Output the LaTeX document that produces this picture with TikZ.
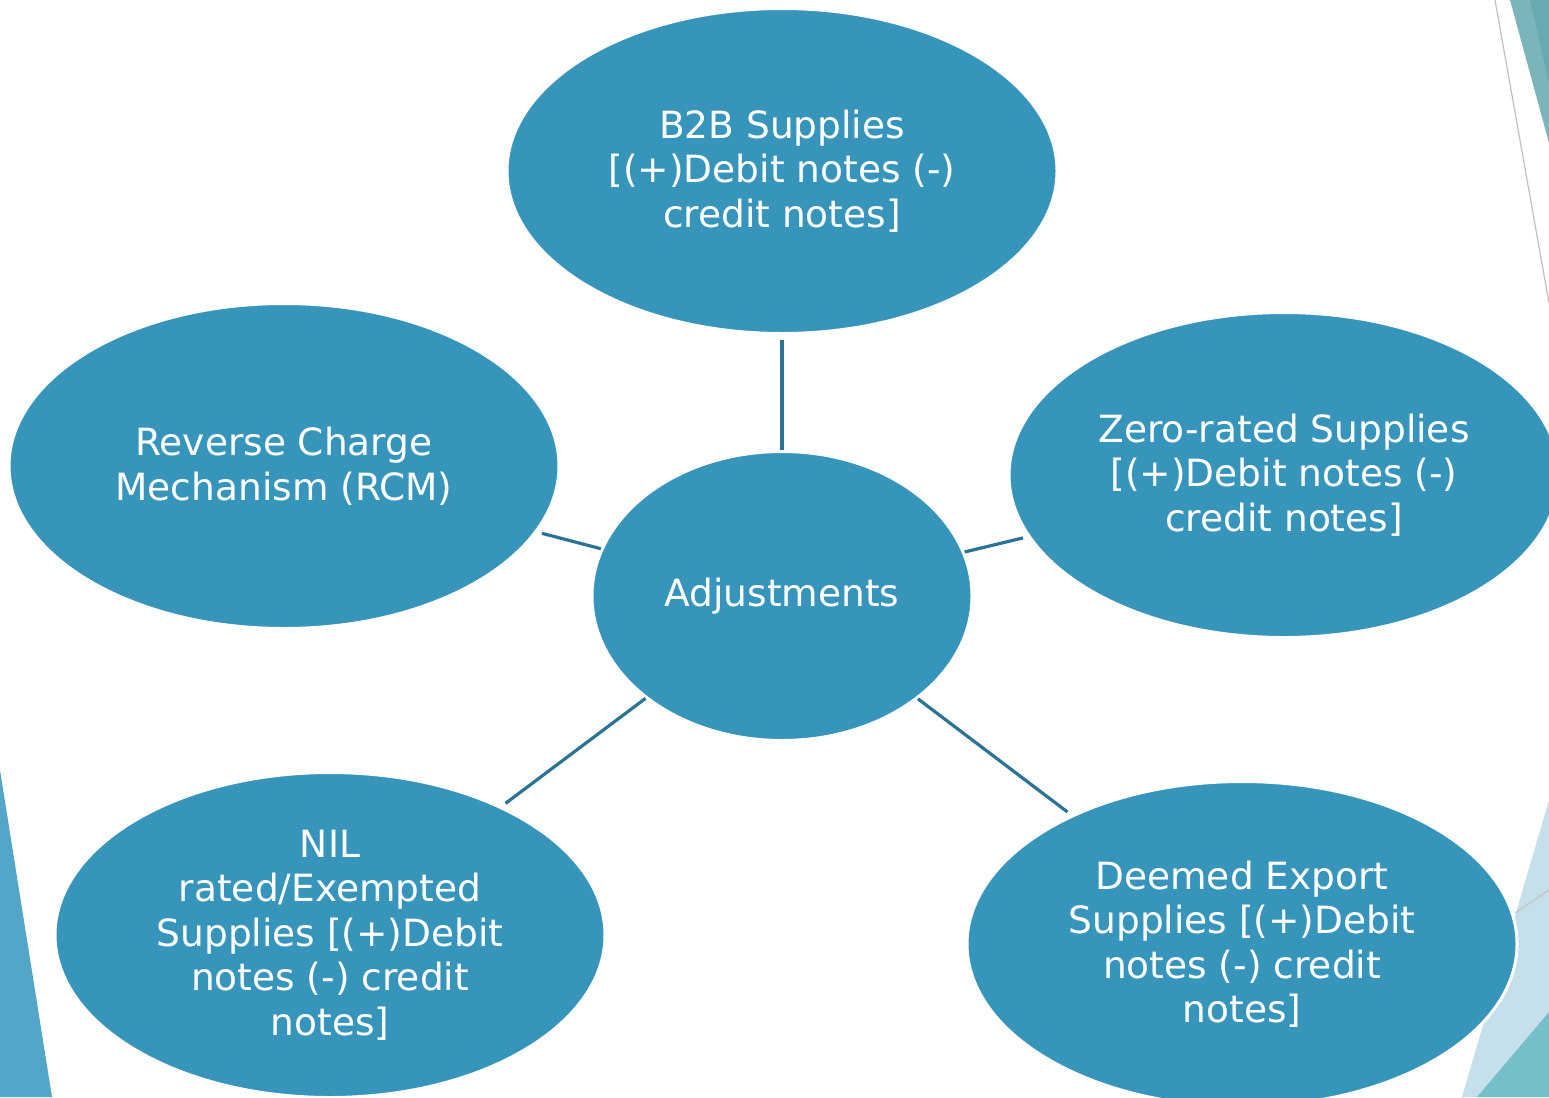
\documentclass[tikz,border=0pt]{standalone}
\usepackage{fontspec}
\setmainfont{DejaVu Sans}
\usetikzlibrary{shapes.geometric}
\definecolor{ellfill}{HTML}{3795BC}
\definecolor{linkc}{HTML}{2A7395}
\definecolor{tealA}{HTML}{7AB5BA}
\definecolor{tealB}{HTML}{68AAB0}
\definecolor{paleblue}{HTML}{C5E0EA}
\definecolor{tealC}{HTML}{75BFC9}
\definecolor{leftblue}{HTML}{53A6C8}
\definecolor{greyline}{HTML}{BFBFBF}
\tikzset{
  bubble/.style={ellipse, fill=ellfill, draw=white, line width=3bp, inner sep=0pt,
    minimum width=550bp, minimum height=325bp, text=white, align=center,
    font=\fontsize{37.5bp}{44.5bp}\selectfont},
  hub/.style={bubble, minimum width=380bp, minimum height=289bp},
  link/.style={draw=linkc, line width=3.2bp, shorten >=5bp}
}
\begin{document}
\begin{tikzpicture}[x=1bp,y=-1bp]
\useasboundingbox (0,0) rectangle (1549,1097);
\clip (0,0) rectangle (1549,1097);
% decorations
\fill[tealA] (1510,0) -- (1549,0) -- (1549,143) -- cycle;
\fill[tealB] (1530,0) -- (1549,0) -- (1549,83) -- cycle;
\draw[greyline, line width=1.2bp] (1495,0) -- (1549,303);
\fill[paleblue] (1462,1097) -- (1549,800) -- (1549,1097) -- cycle;
\fill[tealC] (1477,1097) -- (1549,1012) -- (1549,1097) -- cycle;
\draw[greyline!80!paleblue, line width=1.2bp] (1515,913) -- (1549,890);
\fill[leftblue] (0,770) -- (52,1097) -- (0,1097) -- cycle;
% nodes
\node[bubble] (b2b) at (782,171) {B2B Supplies\\{[}(+)Debit notes (-)\\credit notes]};
\node[bubble] (rcm) at (284,466) {Reverse Charge\\Mechanism (RCM)};
\node[bubble] (zero) at (1284,475) {Zero-rated Supplies\\{[}(+)Debit notes (-)\\credit notes]};
\node[bubble] (nil) at (330,935) {NIL\\rated/Exempted\\Supplies [(+)Debit\\notes (-) credit\\notes]};
\node[bubble] (deemed) at (1242,944) {Deemed Export\\Supplies [(+)Debit\\notes (-) credit\\notes]};
\node[hub] (adj) at (782,596) {Adjustments};
% connectors
\draw[link] (adj) -- (b2b);
\draw[link] (adj) -- (rcm);
\draw[link] (adj) -- (zero);
\draw[link] (adj) -- (nil);
\draw[link] (adj) -- (deemed);
\end{tikzpicture}
\end{document}
